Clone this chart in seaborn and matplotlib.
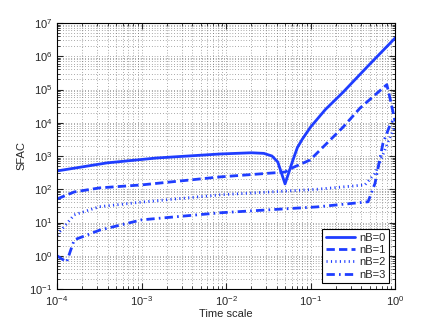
import numpy as np
import pandas as pd
import matplotlib
matplotlib.use("Agg")
import matplotlib.pyplot as plt
import seaborn as sns

# values (log-log axes)
t0 = [1e-4, 3.9e-4, 1.5e-3, 8.5e-3, 0.02, 0.028, 0.035, 0.041, 0.05, 0.062, 0.07, 0.08, 0.1, 0.15, 0.243, 0.5, 1.0]
sfac0 = [355, 620, 870, 1150, 1250, 1200, 1000, 660, 145, 760, 1800, 3200, 7400, 25000, 83000, 5.7e5, 3.5e6]

t1 = [1e-4, 1.6e-4, 3.2e-4, 1e-3, 8.5e-3, 0.05, 0.062, 0.099, 0.243, 0.385, 0.8, 0.88, 1.0]
sfac1 = [51, 83, 110, 135, 235, 330, 450, 760, 7400, 27500, 1.4e5, 5e4, 1.1e4]

t2 = [1e-4, 1.6e-4, 3.2e-4, 1e-3, 8.5e-3, 0.12, 0.44, 0.58, 0.68, 0.82, 1.0]
sfac2 = [4.2, 17, 30, 41, 68, 100, 135, 300, 760, 2500, 8000]

t3 = [1e-4, 1.3e-4, 1.6e-4, 3.2e-4, 1e-3, 8.5e-3, 0.12, 0.48, 0.58, 0.72, 0.88, 1.0]
sfac3 = [1.0, 0.65, 3, 5.9, 12, 19.6, 29.5, 42, 150, 2400, 9000, 1.4e4]

labels = ["nB=0", "nB=1", "nB=2", "nB=3"]

df = pd.concat([
    pd.DataFrame({"t": t, "sfac": s, "series": lab})
    for t, s, lab in zip([t0, t1, t2, t3], [sfac0, sfac1, sfac2, sfac3], labels)
])

sns.set_style("ticks")
plt.rcParams["font.family"] = ["Liberation Sans", "DejaVu Sans"]

fig = plt.figure(figsize=(4.36, 3.27), dpi=100)
ax = fig.add_axes([57 / 436, 1 - 289 / 327, 338 / 436, 266 / 327])

blue = "#1f3dff"
dashes = {"nB=0": "", "nB=1": (3, 1.5), "nB=2": (0.4, 1.2), "nB=3": (3, 1.5, 0.6, 1.5)}
sns.lineplot(data=df, x="t", y="sfac", hue="series", style="series",
             palette=[blue] * 4, dashes=dashes, estimator=None, sort=False,
             linewidth=2, ax=ax)

ax.set_xscale("log")
ax.set_yscale("log")
ax.set_xlim(1e-4, 1)
ax.set_ylim(1e-1, 1e7)
ax.set_xticks([1e-4, 1e-3, 1e-2, 1e-1, 1])
ax.set_yticks([10.0 ** k for k in range(-1, 8)])
ax.grid(True, which="both", color="0.35", linestyle=(0, (1, 3)), linewidth=0.5)
ax.tick_params(which="both", direction="in", top=True, right=True, labelsize=8)
ax.tick_params(which="major", length=4)
ax.tick_params(which="minor", length=2)
for sp in ax.spines.values():
    sp.set_color("black")
    sp.set_linewidth(0.8)
ax.set_xlabel("Time scale", fontsize=8, labelpad=1)
ax.set_ylabel("SFAC", fontsize=8, labelpad=2)

leg = ax.legend(loc="lower right", fontsize=8, frameon=True, fancybox=False,
                edgecolor="black", framealpha=1, handlelength=2.6,
                borderaxespad=0.5, labelspacing=0.2, borderpad=0.35,
                handletextpad=0.4)
leg.get_frame().set_linewidth(0.8)

fig.savefig("out.png", dpi=100)
